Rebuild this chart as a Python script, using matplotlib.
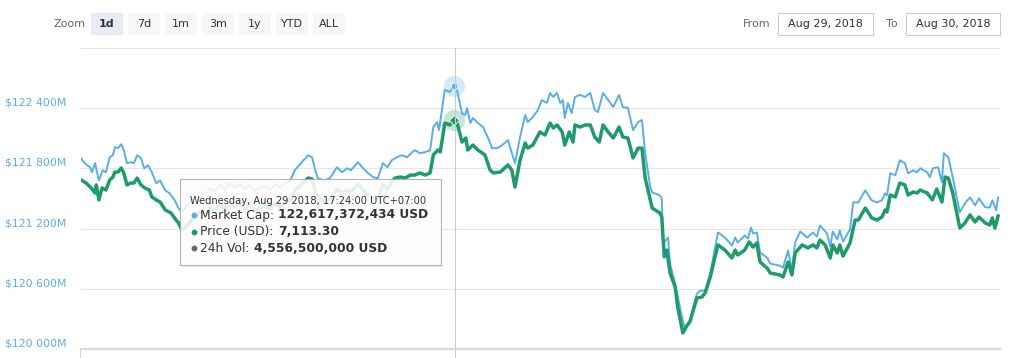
import matplotlib
matplotlib.use("Agg")
import matplotlib.pyplot as plt
from matplotlib import transforms
from matplotlib.patches import Rectangle
from matplotlib.lines import Line2D

# ---- data: minutes after 07:40 (UTC+07:00) on Aug 29 2018 ----
cap_minutes = [0, 6, 14, 17, 22, 28, 34, 39, 45, 50, 53, 58, 63, 67, 72, 78, 83, 88, 94, 99,
               105, 111, 118, 124, 132, 139, 147, 152, 158, 165, 171, 179, 186, 194, 202, 210, 218, 226, 233, 241,
               249, 257, 265, 273, 280, 288, 296, 304, 312, 320, 328, 335, 346, 356, 362, 367, 371, 381, 390, 401,
               409, 417, 423, 434, 442, 450, 458, 465, 473, 480, 487, 495, 503, 511, 519, 523, 531, 539, 547, 552,
               558, 561, 570, 578, 584, 589, 597, 602, 605, 610, 614, 622, 630, 638, 644, 652, 660, 669, 680, 688,
               696, 700, 708, 716, 722, 730, 735, 740, 746, 751, 755, 758, 763, 769, 774, 782, 790, 798, 805, 810,
               818, 826, 834, 843, 849, 857, 865, 873, 879, 884, 892, 895, 907, 910, 912, 920, 923, 931, 942, 946,
               954, 965, 970, 978, 986, 998, 1009, 1020, 1025, 1029, 1040, 1045, 1050, 1053, 1059, 1064, 1075, 1080, 1095, 1100,
               1108, 1114, 1119, 1127, 1138, 1147, 1153, 1158, 1169, 1174, 1178, 1185, 1189, 1194, 1205, 1210, 1218, 1229, 1239, 1247,
               1255, 1260, 1263, 1268, 1276, 1283, 1291, 1296, 1304, 1310, 1315, 1326, 1330, 1335, 1343, 1349, 1352, 1359, 1366, 1377,
               1385, 1393, 1401, 1407, 1417, 1424, 1428, 1434, 1437]
# market cap, million USD
market_cap = [121900, 121850, 121810, 121760, 121850, 121680, 121780, 121760, 121910, 121930, 122010, 122000, 122040, 121980, 121850, 121860, 121850, 121930, 121900, 121800,
              121830, 121760, 121650, 121680, 121580, 121550, 121480, 121410, 121360, 121420, 121460, 121520, 121560, 121540, 121600, 121570, 121630, 121590, 121650, 121610,
              121640, 121590, 121630, 121570, 121610, 121620, 121590, 121640, 121610, 121650, 121680, 121780, 121860, 121930, 121910, 121780, 121700, 121680, 121700, 121810,
              121760, 121800, 121780, 121860, 121800, 121750, 121710, 121700, 121850, 121810, 121880, 121910, 121930, 121910, 121960, 121980, 121950, 121960, 121980, 122210,
              122260, 122180, 122580, 122560, 122617, 122580, 122350, 122330, 122400, 122250, 122300, 122250, 122210, 122100, 122000, 122000, 122030, 122080, 121850, 122110,
              122330, 122260, 122310, 122380, 122480, 122450, 122550, 122510, 122550, 122450, 122480, 122300, 122450, 122350, 122510, 122530, 122510, 122550, 122380, 122360,
              122550, 122480, 122410, 122530, 122410, 122400, 122180, 122260, 122280, 121950, 121610, 121560, 121530, 121500, 121050, 121110, 120850, 120650, 120310, 120210,
              120280, 120550, 120580, 120580, 120750, 121160, 121110, 121030, 121110, 121060, 121130, 121100, 121210, 121150, 121160, 120960, 120910, 120850, 120830, 120810,
              120980, 120780, 121060, 121170, 121110, 121160, 121120, 121230, 121150, 121020, 121170, 121090, 121180, 121070, 121190, 121460, 121460, 121580, 121480, 121460,
              121480, 121550, 121530, 121750, 121730, 121880, 121850, 121750, 121780, 121760, 121800, 121760, 121710, 121800, 121810, 121660, 121950, 121910, 121710, 121360,
              121450, 121510, 121430, 121500, 121410, 121410, 121480, 121380, 121510]

price_minutes = [0, 8, 16, 22, 24, 28, 33, 39, 45, 50, 53, 58, 63, 67, 72, 78, 83, 88, 94, 100,
                 107, 111, 118, 124, 132, 141, 149, 152, 158, 165, 171, 179, 186, 194, 202, 210, 218, 226, 233, 241,
                 249, 257, 265, 273, 280, 288, 296, 304, 312, 320, 328, 335, 346, 356, 362, 367, 371, 381, 390, 401,
                 409, 417, 423, 434, 442, 450, 458, 465, 473, 480, 487, 492, 500, 508, 516, 523, 531, 539, 547, 552,
                 559, 563, 570, 578, 584, 589, 597, 603, 606, 614, 622, 633, 641, 646, 657, 669, 675, 680, 688, 696,
                 700, 708, 719, 727, 735, 740, 746, 754, 758, 765, 771, 774, 782, 790, 798, 805, 812, 818, 826, 834,
                 843, 849, 857, 865, 873, 879, 884, 895, 907, 910, 914, 918, 923, 931, 935, 943, 950, 954, 965, 973,
                 978, 986, 998, 1009, 1020, 1025, 1029, 1040, 1047, 1053, 1059, 1064, 1075, 1080, 1095, 1100, 1108, 1114, 1119, 1130,
                 1139, 1147, 1153, 1158, 1166, 1174, 1178, 1185, 1189, 1194, 1205, 1213, 1218, 1229, 1239, 1247, 1255, 1260, 1263, 1268,
                 1276, 1283, 1291, 1296, 1304, 1310, 1315, 1326, 1334, 1341, 1349, 1354, 1359, 1366, 1377, 1385, 1393, 1401, 1407, 1417,
                 1424, 1428, 1432, 1437]
# price, USD
price_usd = [7073.0, 7071.0, 7067.7, 7064.3, 7069.7, 7059.7, 7067.7, 7066.3, 7073.0, 7075.0, 7078.3, 7078.3, 7081.0, 7077.7, 7069.7, 7071.0, 7071.0, 7074.3, 7069.7, 7067.7,
             7066.3, 7061.7, 7059.7, 7058.3, 7053.0, 7051.0, 7046.3, 7045.0, 7039.7, 7042.3, 7045.0, 7049.0, 7051.7, 7050.3, 7054.3, 7052.3, 7056.3, 7053.7, 7057.7, 7055.0,
             7057.0, 7053.7, 7056.3, 7052.3, 7055.0, 7055.7, 7053.7, 7057.0, 7055.0, 7057.7, 7059.7, 7065.7, 7070.3, 7074.3, 7073.7, 7065.0, 7060.3, 7059.0, 7060.3, 7067.0,
             7063.7, 7066.3, 7065.0, 7070.3, 7066.3, 7063.0, 7061.0, 7060.3, 7069.7, 7067.0, 7071.7, 7074.3, 7075.0, 7074.3, 7076.3, 7076.3, 7077.7, 7076.3, 7077.7, 7089.7,
             7093.0, 7091.7, 7111.0, 7109.7, 7113.3, 7111.7, 7098.3, 7101.0, 7093.0, 7096.3, 7093.0, 7089.7, 7079.7, 7077.7, 7078.3, 7083.0, 7079.7, 7068.3, 7086.3, 7097.7,
             7094.3, 7096.3, 7105.0, 7103.0, 7111.0, 7107.7, 7109.7, 7105.0, 7096.3, 7105.0, 7098.3, 7109.7, 7108.3, 7109.7, 7109.7, 7101.7, 7098.3, 7109.7, 7105.0, 7101.0,
             7108.3, 7101.7, 7101.0, 7087.7, 7094.3, 7094.3, 7074.3, 7054.3, 7051.0, 7048.3, 7021.7, 7026.3, 7011.0, 7001.7, 6988.3, 6971.0, 6976.3, 6978.3, 6994.3, 6995.0,
             6997.7, 7008.3, 7029.7, 7026.3, 7021.0, 7026.3, 7023.0, 7026.3, 7031.7, 7028.3, 7031.0, 7018.3, 7014.3, 7011.0, 7009.7, 7008.3, 7018.3, 7009.7, 7024.3, 7029.7,
             7027.7, 7029.7, 7027.7, 7033.0, 7029.7, 7021.0, 7029.7, 7024.3, 7029.7, 7022.3, 7031.0, 7046.3, 7046.3, 7054.3, 7047.7, 7046.3, 7048.3, 7053.0, 7051.7, 7063.0,
             7061.7, 7071.0, 7069.7, 7063.0, 7065.0, 7064.3, 7066.3, 7064.3, 7059.7, 7067.0, 7058.3, 7075.0, 7074.3, 7064.3, 7041.0, 7044.3, 7049.7, 7045.0, 7048.3, 7044.3,
             7043.0, 7047.7, 7041.0, 7049.0]

cap_ticks = [120000, 120600, 121200, 121800, 122400, 123000]
cap_labels = ["$120 000M", "$120 600M", "$121 200M", "$121 800M", "$122 400M"]
zoom_buttons = ["1d", "7d", "1m", "3m", "1y", "YTD", "ALL"]
date_from = "Aug 29, 2018"
date_to = "Aug 30, 2018"

hover_minute = 584
hover_cap = 122617
hover_price = 7113.3
tooltip_header = "Wednesday, Aug 29 2018, 17:24:00 UTC+07:00"
tooltip_rows = [("Market Cap: ", "122,617,372,434 USD"),
                ("Price (USD): ", "7,113.30"),
                ("24h Vol: ", "4,556,500,000 USD")]

BLUE = "#58aee8"
GREEN = "#1f9b6b"
W, H = 1010, 358

plt.rcParams["font.family"] = ["DejaVu Sans"]
fig = plt.figure(figsize=(W / 100, H / 100), dpi=100)


def fx(x):
    return x / W


def fy(y):
    return 1 - y / H


# plot area: x 81..1000 px, y 47.75..349 px
ax = fig.add_axes([fx(81), fy(349), 919 / W, 301.25 / H])
ax.set_xlim(0, 1440)
ax.set_ylim(120000, 123000)
ax.axis("off")
for v in cap_ticks[1:]:
    ax.axhline(v, color="#e6e6e6", lw=0.8, zorder=0)
ax.axhline(cap_ticks[0], color="#d8d8d8", lw=1.6, zorder=0, clip_on=False)

ax.plot(cap_minutes, market_cap, color=BLUE, lw=1.4, zorder=2, solid_joinstyle="round")

ax2 = ax.twinx()
ax2.set_ylim(6960.3, 7161.2)
ax2.axis("off")
ax2.plot(price_minutes, price_usd, color=GREEN, lw=2.5, zorder=3, solid_joinstyle="round")

# hover markers
ax.scatter([hover_minute], [hover_cap], s=230, color=BLUE, alpha=0.25, lw=0, zorder=4)
ax.scatter([hover_minute], [hover_cap], s=22, color=BLUE, edgecolor="white", lw=0.6, zorder=5)
ax2.scatter([hover_minute], [hover_price], s=230, color=GREEN, alpha=0.25, lw=0, zorder=4)
ax2.scatter([hover_minute], [hover_price], s=26, marker="D", color=GREEN, edgecolor="white", lw=0.6, zorder=5)

# y labels (left aligned, sitting just above grid lines)
lab_trans = transforms.offset_copy(
    transforms.blended_transform_factory(fig.transFigure, ax.transData), fig=fig, y=5.5, units="dots")
for v, lab in zip(cap_ticks, cap_labels):
    ax.text(fx(5), v, lab, transform=lab_trans, ha="left", va="center", fontsize=7.8, color=BLUE)

# crosshair and axis tick
fig.add_artist(Line2D([fx(454.5)] * 2, [fy(47.75), 0], color="#cccccc", lw=0.8))
fig.add_artist(Line2D([fx(79.5)] * 2, [fy(349), 0], color="#ccd6eb", lw=0.8))

# range selector buttons
fig.text(fx(85), fy(24), "Zoom", ha="right", va="center", fontsize=8, color="#666666")
for i, lab in enumerate(zoom_buttons):
    x0 = 91 + i * 37
    sel = i == 0
    fig.add_artist(Rectangle((fx(x0), fy(35)), 32 / W, 22 / H, transform=fig.transFigure,
                             facecolor="#e6ebf5" if sel else "#f7f7f7", edgecolor="none"))
    fig.text(fx(x0 + 16), fy(24), lab, ha="center", va="center", fontsize=8, color="#333333",
             fontweight="bold" if sel else "normal")

fig.text(fx(771), fy(24), "From", ha="right", va="center", fontsize=8, color="#666666")
fig.text(fx(898), fy(24), "To", ha="right", va="center", fontsize=8, color="#666666")
for x0, x1, lab in [(778, 873, date_from), (906, 1000, date_to)]:
    fig.add_artist(Rectangle((fx(x0), fy(35)), (x1 - x0) / W, 22 / H, transform=fig.transFigure,
                             facecolor="white", edgecolor="#cccccc", lw=0.8))
    fig.text(fx((x0 + x1) / 2), fy(24), lab, ha="center", va="center", fontsize=8, color="#333333")

# tooltip
fig.add_artist(Rectangle((fx(181), fy(266.5)), 261 / W, 86 / H, transform=fig.transFigure,
                         facecolor="black", alpha=0.08, edgecolor="none", zorder=9))
fig.add_artist(Rectangle((fx(179.5), fy(264.5)), 261 / W, 86 / H, transform=fig.transFigure,
                         facecolor="white", alpha=0.88, edgecolor="#aaaaaa", lw=0.8, zorder=10))
fig.text(fx(190.5), fy(200.5), tooltip_header, ha="left", va="center", fontsize=7.1,
         color="#333333", zorder=11)

renderer = fig.canvas.get_renderer()
for (name, val), yy, col in zip(tooltip_rows, [215, 231.7, 248.3], [BLUE, GREEN, "#666666"]):
    fig.add_artist(Line2D([fx(193.5)], [fy(yy)], marker="o", ms=3.2, color=col, lw=0, zorder=11))
    t = fig.text(fx(200.5), fy(yy), name, ha="left", va="center", fontsize=8.8, color="#333333", zorder=11)
    x_end = t.get_window_extent(renderer).x1
    fig.text(x_end / W, fy(yy), val, ha="left", va="center", fontsize=8.8, color="#333333",
             fontweight="bold", zorder=11)

fig.savefig("out.png", dpi=100)
